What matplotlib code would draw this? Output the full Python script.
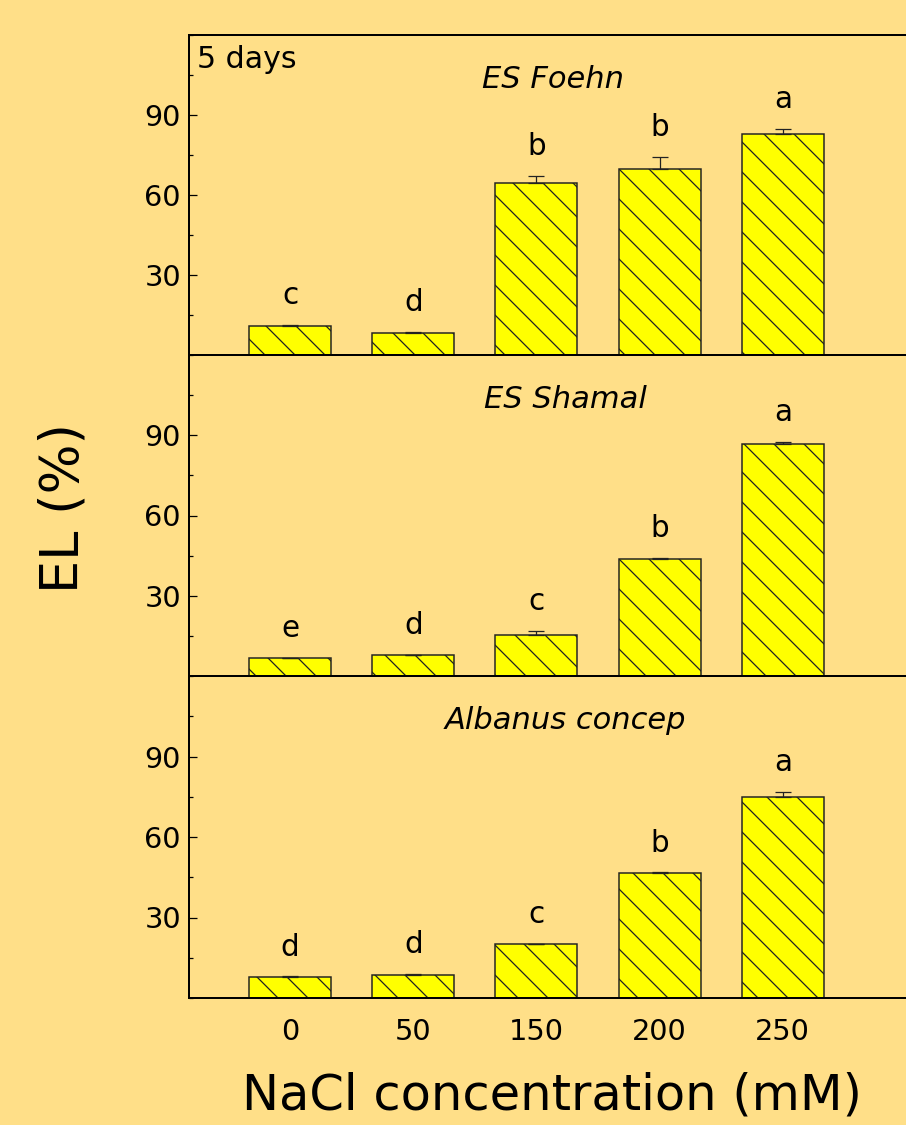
import matplotlib.pyplot as plt
from matplotlib.ticker import MultipleLocator
import numpy as np

plt.rcParams['font.family'] = ['DejaVu Sans']
plt.rcParams['hatch.linewidth'] = 0.5

# NaCl concentrations (mM) on the x axis
nacl_labels = ['0', '50', '150', '200', '250']

# electrolyte leakage (%) per cultivar, with standard errors and letters
cultivars = ['ES Foehn', 'ES Shamal', 'Albanus concep']
el_foehn = [10.8, 8.2, 64.5, 69.9, 82.8]
err_foehn = [0.5, 0.5, 2.6, 4.5, 1.9]
sig_foehn = ['c', 'd', 'b', 'b', 'a']

el_shamal = [6.6, 7.7, 15.3, 43.8, 86.7]
err_shamal = [0.3, 0.3, 1.5, 0.3, 0.7]
sig_shamal = ['e', 'd', 'c', 'b', 'a']

el_albanus = [7.8, 8.6, 20.0, 46.5, 75.0]
err_albanus = [0.3, 0.4, 0.3, 0.3, 1.9]
sig_albanus = ['d', 'd', 'c', 'b', 'a']

values = [el_foehn, el_shamal, el_albanus]
errors = [err_foehn, err_shamal, err_albanus]
letters = [sig_foehn, sig_shamal, sig_albanus]

bg = '#FFDF88'
dpi = 180
fig = plt.figure(figsize=(906 / dpi, 1125 / dpi), dpi=dpi, facecolor=bg)

left = 189 / 906
px_top = [35, 355, 676]
px_bot = [355, 676, 998]
title_x = [0.508, 0.525, 0.525]
x = np.arange(len(nacl_labels))

for i in range(3):
    b = 1 - px_bot[i] / 1125
    t = 1 - px_top[i] / 1125
    ax = fig.add_axes([left, b, 1 - left, t - b])
    ax.set_facecolor(bg)
    ax.bar(x, values[i], width=0.665, color='#FFFF00', edgecolor='#222222',
           linewidth=0.6, hatch='\\\\', zorder=2)
    ax.errorbar(x, values[i], yerr=[np.zeros(5), errors[i]], fmt='none',
                ecolor='#222222', elinewidth=0.5, capsize=3.2, capthick=0.5, zorder=3)
    for xi, v, e, s in zip(x, values[i], errors[i], letters[i]):
        ax.annotate(s, (xi, v + e), xytext=(0, 8.3), textcoords='offset points',
                    ha='center', va='baseline', fontsize=11.8)
    ax.text(title_x[i], 0.835, cultivars[i], transform=ax.transAxes, ha='center',
            va='baseline', fontsize=12.2, style='italic')

    ax.set_xlim(-0.82, 5.0)
    ax.set_ylim(0, 120)
    ax.yaxis.set_minor_locator(MultipleLocator(15))
    ax.set_yticks([30, 60, 90])
    ax.tick_params(axis='y', which='major', direction='in', length=3.2, width=0.5,
                   pad=3.2, labelsize=11.5)
    ax.tick_params(axis='y', which='minor', direction='in', length=1.6, width=0.5)
    ax.set_xticks(x)
    ax.tick_params(axis='x', length=0, pad=8, labelsize=11.5)
    if i < 2:
        ax.set_xticklabels([])
    else:
        ax.set_xticklabels(nacl_labels)
    for sp in ['left', 'bottom', 'top']:
        ax.spines[sp].set_linewidth(0.8)
    ax.spines['right'].set_visible(False)
    if i == 0:
        ax.text(0.011, 0.897, '5 days', transform=ax.transAxes, ha='left',
                va='baseline', fontsize=12)

fig.text(0.07, 1 - 508 / 1125, 'EL (%)', rotation=90, ha='center', va='center',
         fontsize=21)
fig.text(552 / 906, 1 - 1110 / 1125, 'NaCl concentration (mM)', ha='center',
         va='baseline', fontsize=19.8)

fig.savefig('out.png', dpi=dpi, facecolor=bg)
